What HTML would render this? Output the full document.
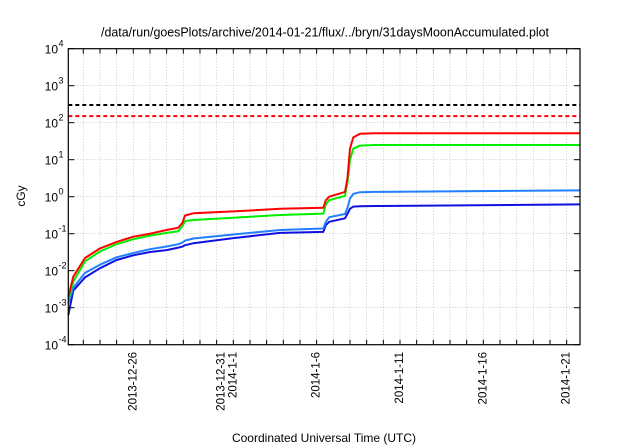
<!DOCTYPE html>
<html><head><meta charset="utf-8"><style>
html,body{margin:0;padding:0;background:#fff;}
svg{display:block;font-family:"Liberation Sans",sans-serif;}
</style></head><body>
<svg id="chart" width="640" height="448" viewBox="0 0 640 448" xmlns="http://www.w3.org/2000/svg">
<rect width="640" height="448" fill="#fff"/>
<text x="325" y="36.5" font-size="12.5" text-anchor="middle" textLength="448" lengthAdjust="spacingAndGlyphs" fill="#000">/data/run/goesPlots/archive/2014-01-21/flux/../bryn/31daysMoonAccumulated.plot</text>
<text transform="translate(25,196) rotate(-90)" font-size="12" text-anchor="middle" fill="#000">cGy</text>
<text x="324" y="442" font-size="12" text-anchor="middle" fill="#000">Coordinated Universal Time (UTC)</text>
<g id="grid"></g>
<g id="series"></g>
<g id="axes"></g>
</svg>
<script>
// day index relative to 2013-12-26
const days = [-3.9,-3.6,-2.9,-2,-1,0,1,2,2.7,2.95,3.1,3.6,6,8.8,11.4,11.55,11.75,12.7,12.85,13.0,13.2,13.6,14.5,26.8];
const redValues = [0.002,0.0069,0.022,0.040,0.060,0.083,0.10,0.126,0.145,0.2,0.31,0.355,0.40,0.47,0.50,0.8,1.0,1.35,3.2,20,40,50,52,52];
const greenValues = [0.0016,0.005,0.018,0.033,0.052,0.071,0.089,0.105,0.117,0.16,0.22,0.234,0.27,0.32,0.35,0.62,0.81,1.05,2.5,10,20,24,25,25];
const lightBlueValues = [0.0013,0.0035,0.0087,0.0145,0.023,0.030,0.038,0.045,0.052,0.058,0.065,0.074,0.095,0.126,0.138,0.21,0.28,0.34,0.5,0.89,1.2,1.32,1.35,1.48];
const blueValues = [0.00063,0.0029,0.0066,0.0117,0.0195,0.026,0.032,0.036,0.042,0.045,0.049,0.055,0.076,0.105,0.112,0.17,0.21,0.26,0.35,0.47,0.54,0.55,0.56,0.62];
const thresholdValues = [300,150];
const xTickLabels = ["2013-12-26","2013-12-31","2014-1-1","2014-1-6","2014-1-11","2014-1-16","2014-1-21"];
const xTickDays = [0,5,6,11,16,21,26];
const yTickExps = [-4,-3,-2,-1,0,1,2,3,4];

const NS="http://www.w3.org/2000/svg";
const L=68.3,R=580,T=48.7,B=344.7;
const dMin=-3.9,dMax=26.8;
const x=d=>L+(d-dMin)/(dMax-dMin)*(R-L);
const y=v=>B-(Math.log10(v)+4)/8*(B-T);
function mk(tag,attrs,parent){const e=document.createElementNS(NS,tag);for(const k in attrs)e.setAttribute(k,attrs[k]);parent.appendChild(e);return e;}
const grid=document.getElementById('grid'),ser=document.getElementById('series'),axes=document.getElementById('axes');

for(let d=-3;d<=26;d++){
  const g=mk('line',{x1:x(d),x2:x(d),y1:T,y2:B,stroke:'#aaa','stroke-width':0.6,'stroke-dasharray':'1,2'},grid);
  
  
  for(const yy of [B,T]){
    const t=mk('line',{x1:x(d),x2:x(d),y1:yy,y2:yy===B?yy-5:yy+5,stroke:'#000','stroke-width':1},axes);
    
    
  }
}
yTickExps.forEach(e=>{
  const v=Math.pow(10,e);
  if(e>-4&&e<4){
    const g=mk('line',{x1:L,x2:R,y1:y(v),y2:y(v),stroke:'#aaa','stroke-width':0.6,'stroke-dasharray':'1,2'},grid);
    
    
  }
  for(const xx of [L,R]){
    const t=mk('line',{x1:xx,x2:xx===L?xx+6:xx-6,y1:y(v),y2:y(v),stroke:'#000','stroke-width':1},axes);
    
    
  }
  const tx=mk('text',{x:58,y:y(v)+5,'font-size':12,'text-anchor':'end',fill:'#000'},axes);
  
  
  tx.textContent='10';
  const sp=mk('text',{x:58.5,y:y(v)-2,'font-size':9,fill:'#000'},axes);
  
  
  sp.textContent=String(e);
});
const frame=mk('rect',{x:L,y:T,width:R-L,height:B-T,fill:'none',stroke:'#000','stroke-width':1.2},axes);



xTickLabels.forEach((lab,i)=>{
  const ax=x(xTickDays[i])+3+(lab==="2013-12-31"?5:0);
  const t=mk('text',{transform:`translate(${ax},352) rotate(-90)`,'font-size':11.5,'text-anchor':'end',fill:'#000'},axes);
  
  
  t.textContent=lab;
});

const thrColors=['#000','#ff0000'];
thresholdValues.forEach((v,i)=>{
  const l=mk('line',{x1:L,x2:R,y1:y(v),y2:y(v),stroke:thrColors[i],'stroke-width':2,'stroke-dasharray':'4,3'},ser);
  
  
});

const series=[[blueValues,'#1010e0','series-blue'],[lightBlueValues,'#2080ff','series-light-blue'],[greenValues,'#00ee00','series-green'],[redValues,'#ff0000','series-red']];
series.forEach(([vals,col,name])=>{
  const pts=days.map((d,i)=>x(d).toFixed(1)+','+y(vals[i]).toFixed(1)).join(' ');
  const p=mk('polyline',{points:pts,fill:'none',stroke:col,'stroke-width':2,'stroke-linejoin':'round'},ser);
  
  
});
</script>
</body></html>
